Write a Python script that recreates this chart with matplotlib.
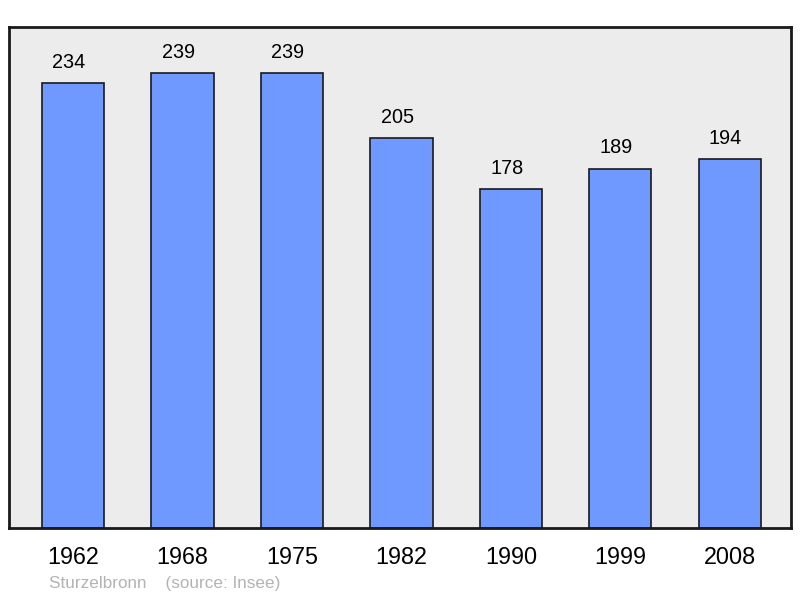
import matplotlib
matplotlib.use("Agg")
import matplotlib.pyplot as plt

years = ["1962", "1968", "1975", "1982", "1990", "1999", "2008"]
population = [234, 239, 239, 205, 178, 189, 194]

plt.rcParams['font.family'] = ['Liberation Sans', 'DejaVu Sans']

fig = plt.figure(figsize=(8, 5.98), dpi=100)
ax = fig.add_axes([0.01125, 0.117, 0.9775, 0.8378])
ax.set_facecolor('#ececec')

x = range(len(years))
bars = ax.bar(x, population, width=0.57, color='#7099ff', edgecolor='#1a1a1a', linewidth=1.2)

# value labels sit slightly left of the bar centre, like the original
for xi, v in zip(x, population):
    ax.annotate(str(v), (xi, v), xytext=(-3, 8), textcoords='offset points',
                ha='center', va='bottom', fontsize=14.3, color='black')

ax.set_xlim(-0.585, 6.56)
ax.set_ylim(0, 263.4)
ax.set_yticks([])
ax.set_xticks(list(x))
ax.set_xticklabels(years, fontsize=16.8)
ax.tick_params(axis='x', length=0, pad=13)
for s in ax.spines.values():
    s.set_linewidth(2)
    s.set_color('#1a1a1a')

fig.text(0.061, 0.012, "Sturzelbronn    (source: Insee)", fontsize=12.3, color='#b3b3b3',
         ha='left', va='bottom')

fig.savefig("out.png", dpi=100)
